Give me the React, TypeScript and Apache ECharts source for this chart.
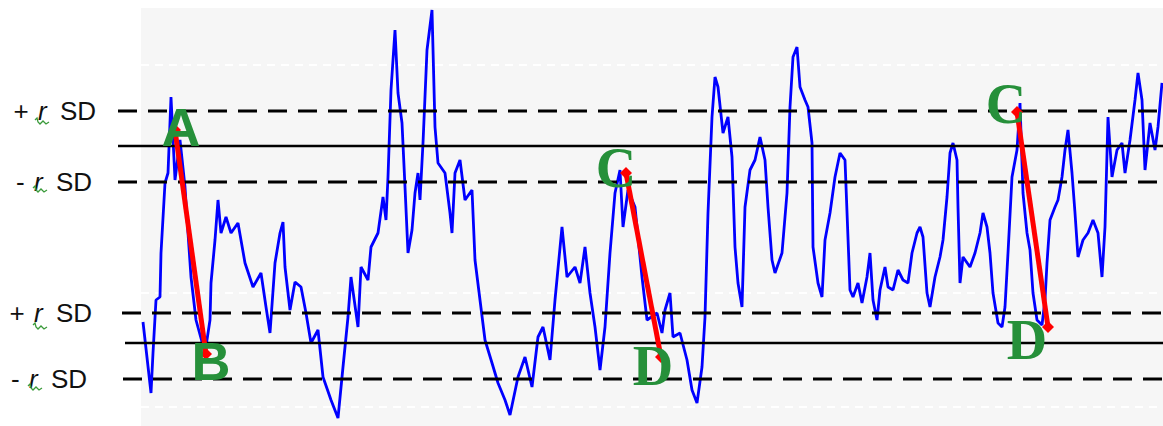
import React, { useEffect, useRef } from 'react';
import * as echarts from 'echarts';

// time index (samples) and signal amplitude
const signalTime = [
  2, 10, 12, 15, 19, 20, 24, 27, 30, 34, 39, 44, 47, 50, 55, 64, 69, 70, 74, 77, 80, 85, 90, 97, 104, 112, 120, 125, 129, 134, 139, 142, 144, 149, 154, 160, 165, 170, 177, 182, 190, 197, 202, 207, 210, 217, 220, 227, 230, 237, 242, 245, 247, 250, 254,
  257, 261, 264, 267, 271, 274, 277, 279, 282, 286, 291, 294, 297, 304, 309, 311, 314, 319, 324, 331, 334, 339, 344, 351, 357, 364, 369, 377, 384, 391, 397, 402, 409, 414, 421, 426, 434, 439, 444, 449, 454, 459, 464, 469, 474, 479, 482, 487, 494, 501, 506,
  516, 521, 524, 529, 532, 539, 546, 551, 556, 561, 564, 567, 571, 574, 577, 582, 587, 591, 594, 597, 601, 604, 609, 614, 619, 624, 627, 631, 634, 641, 646, 649, 652, 656, 659, 664, 667, 671, 672, 677, 681, 684, 689, 694, 699, 704, 709, 712, 717, 721, 726, 729, 732, 736, 739, 744, 747, 752, 757, 762,
  767, 771, 776, 779, 782, 786, 789, 794, 799, 802, 806, 809, 812, 816, 817, 819, 822, 829, 834, 839, 842, 846, 849, 852, 857, 861, 864, 867, 871, 876, 879, 882, 886, 889, 892, 896, 901, 904, 906, 909, 914, 917, 921, 924, 927, 931, 934, 937, 942, 947, 952, 957, 961, 964, 967, 971, 976, 981, 984, 989, 994, 997, 1001, 1004, 1009, 1014, 1017, 1021,
];
const signalValue = [
  104, 33, 73, 126, 129, 173, 243, 253, 329, 246, 286, 239, 193, 149, 106, 73, 106, 143, 186, 226, 193, 209, 193, 203, 163, 139, 153, 119, 93, 163, 193, 204, 159, 116, 144, 139, 113, 83, 96, 49, 26, 8, 59, 109, 149, 99, 159, 146, 179, 193, 229, 206, 249, 336, 396,
  333, 303, 239, 173, 196, 233, 253, 226, 283, 376, 416, 299, 263, 253, 213, 193, 253, 266, 226, 236, 166, 126, 86, 63, 43, 26, 11, 49, 69, 39, 89, 99, 66, 126, 199, 149, 159, 143, 179, 133, 99, 56, 99, 173, 233, 256, 199, 236, 219, 149, 106,
  113, 93, 116, 133, 89, 93, 66, 36, 23, 59, 109, 213, 309, 349, 339, 293, 309, 269, 179, 143, 119, 219, 256, 266, 289, 266, 219, 166, 153, 173, 233, 319, 369, 379, 339, 326, 319, 283, 179, 143, 129, 186, 213, 249, 273, 266, 136, 129, 143, 123, 149, 173, 126, 106, 136, 159, 139, 136, 156, 146,
  143, 173, 193, 199, 189, 133, 119, 149, 169, 186, 229, 273, 283, 266, 219, 143, 169, 159, 173, 193, 213, 199, 173, 133, 103, 99, 119, 173, 249, 276, 323, 233, 193, 176, 133, 106, 101, 126, 163, 206, 219, 226, 249, 276, 296, 253, 213, 169, 186, 193, 206, 193, 149, 199, 309, 249, 276, 283, 253, 286, 326, 353, 326, 256, 303, 276, 299, 343,
];

// reference levels
const sdSigns = ['+', '-', '+', '-'];
const sdLevels = [315, 244, 113, 47];
const sdStarts = [-23, -23, -19, -18];
const sdLabelGap = [22, 26, 30, 36];
const meanLevels = [280, 83];
const meanStarts = [-23, -16];
const gridLevels = [19, 133, 361];
const tMin = -23;
const tEnd = 1022;
const vMax = 418;

// drops (start -> end) and their letters
const dropStartT = [34, 485, 876];
const dropStartV = [296, 253, 314];
const dropEndT = [65, 520, 907];
const dropEndV = [72, 69, 99];
const letterNames = ['A', 'B', 'C', 'D', 'C', 'D'];
const letterT = [40, 70, 475, 512, 865, 886];
const letterV = [299, 65, 258, 60, 322, 86];

const squiggleAt = [[35, 118], [33, 186], [33, 323], [28, 384]];

export default function App() {
  const ref = useRef<HTMLDivElement>(null);
  useEffect(() => {
    const chart = echarts.init(ref.current!, null, { renderer: 'svg' });
    const series: any[] = [];

    // plot background
    series.push({
      type: 'line', data: [[0, vMax], [tEnd, vMax]], symbol: 'none', silent: true, z: 0,
      lineStyle: { width: 0 }, areaStyle: { color: '#f6f6f6', opacity: 1 },
    });

    gridLevels.forEach((v) => {
      series.push({
        type: 'line', data: [[0, v], [tEnd, v]], symbol: 'none', silent: true, z: 1,
        lineStyle: { color: '#ffffff', width: 2, type: [8, 6] },
      });
    });

    series.push({
      type: 'line',
      data: signalTime.map((t, i) => [t, signalValue[i]]),
      symbol: 'none',
      z: 2,
      lineStyle: { color: '#0000ff', width: 2.8 },
    });

    sdLevels.forEach((v, i) => {
      series.push({
        type: 'line', symbol: 'none', z: 3,
        lineStyle: { color: '#000000', width: 3, type: [19, 11] },
        data: [[sdStarts[i], v], [tEnd, v]],
      });
    });

    const labelFont = "'Liberation Sans', Arial, sans-serif";
    series.push({
      type: 'scatter', symbolSize: 0, z: 5,
      itemStyle: { opacity: 1 },
      data: sdLevels.map((v, i) => ({
        value: [sdStarts[i], v],
        label: {
          show: true, position: 'left', distance: sdLabelGap[i],
          formatter: `{s|${sdSigns[i]}}{g| }{r|r}{g| }{s|SD}`,
          rich: {
            s: { fontFamily: labelFont, fontSize: 26, color: '#111' },
            g: { fontFamily: labelFont, fontSize: 26, color: '#111' },
            r: { fontFamily: labelFont, fontSize: 26, fontStyle: 'italic', color: '#111', padding: [0, 6, 0, 2] },
          },
        },
      })),
    });

    meanLevels.forEach((v, i) => {
      series.push({
        type: 'line', symbol: 'none', z: 3,
        lineStyle: { color: '#000000', width: 2.5 },
        data: [[meanStarts[i], v], [tEnd, v]],
      });
    });

    dropStartT.forEach((t, i) => {
      series.push({
        type: 'line', symbol: 'diamond', symbolSize: 12, z: 4,
        lineStyle: { color: '#ff0000', width: 5 },
        itemStyle: { color: '#ff0000' },
        data: [[t, dropStartV[i]], [dropEndT[i], dropEndV[i]]],
      });
    });

    series.push({
      type: 'scatter', symbolSize: 0, z: 10,
      itemStyle: { opacity: 1 },
      data: letterNames.map((n, i) => ({
        name: n,
        value: [letterT[i], letterV[i]],
        label: {
          show: true, position: 'inside', formatter: n,
          color: '#26903a', fontWeight: 'bold', opacity: 1,
          fontFamily: n === 'A' || n === 'B' ? labelFont : "'Liberation Serif', 'Times New Roman', serif",
          fontSize: n === 'A' || n === 'B' ? 54 : 56,
        },
      })),
    });

    const squiggle = (x: number, y: number) => ({
      type: 'polyline',
      shape: { points: [[x, y + 2], [x + 2, y], [x + 3, y + 4], [x + 5, y + 6], [x + 8, y + 3], [x + 11, y + 6], [x + 14, y + 4]] },
      style: { stroke: '#3a9a3a', lineWidth: 1.3, fill: null },
      z: 20,
    });

    chart.setOption({
      animation: false,
      backgroundColor: '#ffffff',
      grid: { left: 118, right: 0, top: 8, bottom: 0 },
      xAxis: { type: 'value', min: tMin, max: tEnd, show: false },
      yAxis: { type: 'value', min: 0, max: vMax, show: false },
      series,
      graphic: squiggleAt.map(([x, y]) => squiggle(x, y)),
    });
    return () => chart.dispose();
  }, []);
  return <div ref={ref} style={{ position: 'absolute', left: 0, top: 0, width: 1163, height: 426 }} />;
}
